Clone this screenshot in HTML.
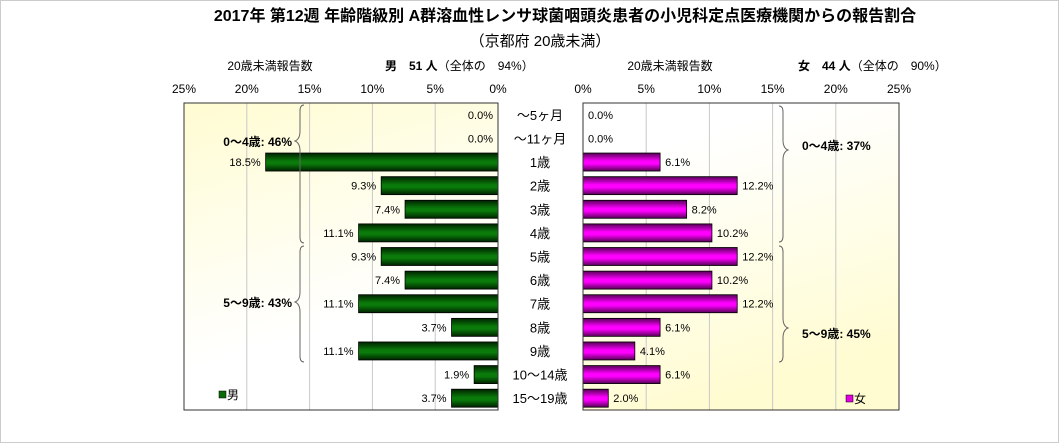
<!DOCTYPE html>
<html><head><meta charset="utf-8"><style>
body{margin:0;background:#fff;}
svg{display:block;font-family:"Liberation Sans","Noto Sans CJK JP",sans-serif;}
</style></head><body>
<svg id="chart" width="1059" height="443" viewBox="0 0 1059 443" xmlns="http://www.w3.org/2000/svg">
<defs>
<linearGradient id="gm" x1="0" y1="0" x2="0" y2="1"><stop offset="0" stop-color="#002200"/><stop offset="0.45" stop-color="#0a7a0a"/><stop offset="0.6" stop-color="#0a7a0a"/><stop offset="1" stop-color="#002200"/></linearGradient>
<linearGradient id="gf" x1="0" y1="0" x2="0" y2="1"><stop offset="0" stop-color="#550055"/><stop offset="0.45" stop-color="#ff00ff"/><stop offset="0.6" stop-color="#ff00ff"/><stop offset="1" stop-color="#550055"/></linearGradient>
<linearGradient id="bgl" x1="0" y1="0" x2="0.3" y2="1"><stop offset="0" stop-color="#fffcd2"/><stop offset="0.8" stop-color="#ffffff"/></linearGradient>
<linearGradient id="bgr" x1="0" y1="0" x2="0.3" y2="1"><stop offset="0.2" stop-color="#ffffff"/><stop offset="1" stop-color="#fffcd2"/></linearGradient>
</defs>
<rect x="0.5" y="0.5" width="1058" height="442" fill="#fff" stroke="#ccc"/>
<text x="565" y="21" font-size="16" font-weight="bold" text-anchor="middle">2017年 第12週 年齢階級別 A群溶血性レンサ球菌咽頭炎患者の小児科定点医療機関からの報告割合</text>
<text x="540" y="46" font-size="15" text-anchor="middle">（京都府 20歳未満）</text>
<text x="270" y="70" font-size="12" text-anchor="middle">20歳未満報告数</text>
<text x="385" y="70" font-size="12"><tspan font-weight="bold">男　51 人</tspan>（全体の　94%）</text>
<text x="670" y="70" font-size="12" text-anchor="middle">20歳未満報告数</text>
<text x="798" y="70" font-size="12"><tspan font-weight="bold">女　44 人</tspan>（全体の　90%）</text>
<rect x="184" y="103" width="314" height="307" fill="url(#bgl)"/>
<rect x="583" y="103" width="316" height="307" fill="url(#bgr)"/>
<g id="grid"></g><g id="bars"></g><g id="labels"></g>
<rect x="184" y="103" width="314" height="307" fill="none" stroke="#333"/>
<rect x="583" y="103" width="316" height="307" fill="none" stroke="#333"/>
<path d="M304,105 q-4,0 -4,6 v20 q0,8 -5,10 q5,2 5,10 v86 q0,6 4,6" fill="none" stroke="#666"/>
<path d="M304,246 q-4,0 -4,6 v40 q0,8 -5,10 q5,2 5,10 v44 q0,6 4,6" fill="none" stroke="#666"/>
<text x="292" y="146" font-size="12" font-weight="bold" text-anchor="end">0～4歳: 46%</text>
<text x="292" y="307" font-size="12" font-weight="bold" text-anchor="end">5～9歳: 43%</text>
<path d="M779,106 q4,0 4,6 v28 q0,8 5,10 q-5,2 -5,10 v76 q0,6 -4,6" fill="none" stroke="#666"/>
<path d="M779,246 q4,0 4,6 v66 q0,8 5,10 q-5,2 -5,10 v18 q0,6 -4,6" fill="none" stroke="#666"/>
<text x="802" y="150" font-size="12" font-weight="bold">0～4歳: 37%</text>
<text x="802" y="338" font-size="12" font-weight="bold">5～9歳: 45%</text>
<rect x="219" y="391" width="7" height="7" fill="#0a6a0a" stroke="#000" stroke-width="0.5"/>
<text x="227" y="399" font-size="12">男</text>
<rect x="846" y="395" width="7" height="7" fill="#e000e0" stroke="#000" stroke-width="0.5"/>
<text x="854" y="403" font-size="12">女</text>
</svg>
<script>
const categories=["～5ヶ月","～11ヶ月","1歳","2歳","3歳","4歳","5歳","6歳","7歳","8歳","9歳","10～14歳","15～19歳"];
const maleValues=[0,0,18.5,9.3,7.4,11.1,9.3,7.4,11.1,3.7,11.1,1.9,3.7];
const femaleValues=[0,0,6.1,12.2,8.2,10.2,12.2,10.2,12.2,6.1,4.1,6.1,2.0];
const tickValues=[0,5,10,15,20,25];
const NS="http://www.w3.org/2000/svg";
const top0=103,bottom0=410,rowH=(bottom0-top0)/categories.length;
const mx=v=>498-v*(314/25), fx=v=>583+v*(316/25), yc=i=>top0+rowH*(i+0.5);
function mk(tag,attrs,parent,txt){const e=document.createElementNS(NS,tag);for(const k in attrs)e.setAttribute(k,attrs[k]);if(txt!==undefined)e.textContent=txt;document.getElementById(parent).appendChild(e);return e;}
tickValues.forEach(t=>{
  let g;
  if(t>0&&t<25){g=mk('line',{x1:mx(t),x2:mx(t),y1:top0,y2:bottom0,stroke:'#c8c8c8'},'grid');
  
  
  g=mk('line',{x1:fx(t),x2:fx(t),y1:top0,y2:bottom0,stroke:'#c8c8c8'},'grid');
  
  }
  g=mk('text',{x:mx(t),y:93,'font-size':12,'text-anchor':'middle'},'labels',t+'%');
  
  
  g=mk('text',{x:fx(t),y:93,'font-size':12,'text-anchor':'middle'},'labels',t+'%');
  
  
});
categories.forEach((c,i)=>{
  const y=yc(i),h=18;
  let e;
  if(maleValues[i]>0){e=mk('rect',{x:mx(maleValues[i]),y:y-h/2,width:mx(0)-mx(maleValues[i]),height:h,fill:'url(#gm)',stroke:'#000','stroke-width':0.8},'bars');
  
  }
  if(femaleValues[i]>0){e=mk('rect',{x:fx(0),y:y-h/2,width:fx(femaleValues[i])-fx(0),height:h,fill:'url(#gf)',stroke:'#000','stroke-width':0.8},'bars');
  
  }
  e=mk('text',{x:Math.min(mx(maleValues[i]),498)-5,y:y+4,'font-size':11,'text-anchor':'end'},'labels',maleValues[i].toFixed(1)+'%');
  
  
  e=mk('text',{x:Math.max(fx(femaleValues[i]),583)+5,y:y+4,'font-size':11},'labels',femaleValues[i].toFixed(1)+'%');
  
  
  e=mk('text',{x:540,y:y+5,'font-size':13,'text-anchor':'middle'},'labels',c);
  
  
});
</script>
</body></html>
